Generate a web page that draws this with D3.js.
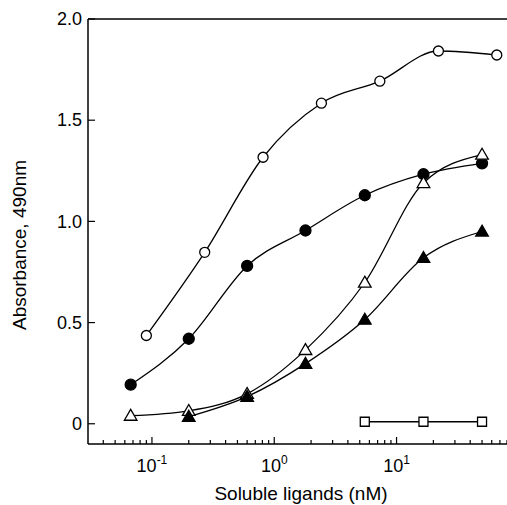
<!DOCTYPE html>
<html>
<head>
<meta charset="utf-8">
<title>Absorbance vs soluble ligands</title>
<style>
body { margin: 0; background: #fff; }
text { font-family: "Liberation Sans", Arial, Helvetica, sans-serif; fill: #000; }
.curve { fill: none; stroke: #000; stroke-width: 1.3px; }
.axis-line { stroke: #000; stroke-width: 1.5px; fill: none; }
.tick { stroke: #000; stroke-width: 1.2px; }
</style>
</head>
<body>
<script src="https://cdn.jsdelivr.net/npm/d3@7"></script>
<script>
// concentrations (nM), two 3-fold dilution series
var concA = [0.09, 0.27, 0.81, 2.43, 7.3, 22, 66];
var concB = [0.067, 0.2, 0.6, 1.8, 5.5, 16.6, 50];

// absorbance readings
var openCircle     = [0.436, 0.847, 1.317, 1.584, 1.693, 1.842, 1.822];
var filledCircle   = [0.193, 0.42, 0.78, 0.955, 1.129, 1.233, 1.287];
var openTriangle   = [0.04, 0.064, 0.148, 0.365, 0.698, 1.19, 1.33];
var filledTriangle = [null, 0.035, 0.134, 0.297, 0.515, 0.82, 0.95];
var openSquare     = [null, null, null, null, 0.01, 0.01, 0.01];

var yTicks = [0, 0.5, 1.0, 1.5, 2.0];
var xMajor = [0.1, 1, 10];
var xMajorExp = ["-1", "0", "1"];

var width = 507, height = 505;
var plotLeft = 88, plotTop = 19, plotRight = 507, plotBottom = 444;

var x = d3.scaleLog().domain([0.03, 80]).range([plotLeft, plotRight]);
var y = d3.scaleLinear().domain([-0.1, 2.0]).range([plotBottom, plotTop]);

var svg = d3.select("body").append("svg")
  .attr("width", width)
  .attr("height", height);

function pairs(xs, ys) {
  return xs.map(function(c, i) { return [c, ys[i]]; })
    .filter(function(d) { return d[1] != null; });
}

var series = [
  {data: pairs(concA, openCircle), shape: "circle", fill: "#fff", smooth: true},
  {data: pairs(concB, filledCircle), shape: "circle", fill: "#000", smooth: true},
  {data: pairs(concB, openTriangle), shape: "triangle", fill: "#fff", smooth: true},
  {data: pairs(concB, filledTriangle), shape: "triangle", fill: "#000", smooth: true},
  {data: pairs(concB, openSquare), shape: "square", fill: "#fff", smooth: false}
];

// axes frame
svg.append("line").attr("class", "axis-line")
  .attr("x1", plotLeft).attr("x2", plotLeft).attr("y1", plotTop).attr("y2", plotBottom);
svg.append("line").attr("class", "axis-line")
  .attr("x1", plotLeft).attr("x2", plotRight).attr("y1", plotTop).attr("y2", plotTop);
svg.append("line").attr("class", "axis-line")
  .attr("x1", plotLeft).attr("x2", plotRight).attr("y1", plotBottom).attr("y2", plotBottom);

// y ticks, pointing inward
svg.selectAll(".ytick").data(yTicks).enter().append("line")
  .attr("class", "tick")
  .attr("x1", plotLeft).attr("x2", plotLeft + 7)
  .attr("y1", function(d) { return y(d); })
  .attr("y2", function(d) { return y(d); });

svg.selectAll(".ylabel").data(yTicks).enter().append("text")
  .attr("x", plotLeft - 6)
  .attr("y", function(d) { return y(d); })
  .attr("dy", "0.35em")
  .attr("text-anchor", "end")
  .style("font-size", "18px")
  .text(function(d) { return d === 0 ? "0" : d3.format(".1f")(d); });

// x minor + major ticks
var xMinor = [];
[0.01, 0.1, 1, 10].forEach(function(dec) {
  for (var k = 2; k <= 9; k++) {
    var v = dec * k;
    if (v > 0.035 && v <= 80) xMinor.push(v);
  }
});

svg.selectAll(".xminor").data(xMinor).enter().append("line")
  .attr("class", "tick")
  .attr("x1", function(d) { return x(d); })
  .attr("x2", function(d) { return x(d); })
  .attr("y1", plotBottom).attr("y2", plotBottom - 4);

svg.selectAll(".xmajor").data(xMajor).enter().append("line")
  .attr("class", "tick")
  .attr("x1", function(d) { return x(d); })
  .attr("x2", function(d) { return x(d); })
  .attr("y1", plotBottom).attr("y2", plotBottom - 7);

var xl = svg.selectAll(".xlabel").data(xMajor).enter().append("text")
  .attr("x", function(d) { return x(d); })
  .attr("y", 472)
  .attr("text-anchor", "middle")
  .style("font-size", "18px");
xl.append("tspan").text("10");
xl.append("tspan")
  .attr("dy", -8)
  .style("font-size", "12px")
  .text(function(d, i) { return xMajorExp[i]; });

// axis titles
svg.append("text")
  .attr("x", 301)
  .attr("y", 500)
  .attr("text-anchor", "middle")
  .style("font-size", "19px")
  .text("Soluble ligands (nM)");

svg.append("text")
  .attr("transform", "translate(26,245) rotate(-90)")
  .attr("text-anchor", "middle")
  .style("font-size", "19px")
  .text("Absorbance, 490nm");

// curves
series.forEach(function(s) {
  var line = d3.line()
    .x(function(d) { return x(d[0]); })
    .y(function(d) { return y(d[1]); })
    .curve(s.smooth ? d3.curveMonotoneX : d3.curveLinear);
  svg.append("path").attr("class", "curve").attr("d", line(s.data));
});

// markers
function markerPath(shape) {
  if (shape === "triangle") return "M0,-6.3L6.3,4.6L-6.3,4.6Z";
  if (shape === "square") return "M-4.5,-4.5H4.5V4.5H-4.5Z";
  return null;
}

series.forEach(function(s) {
  var g = svg.append("g");
  var m = g.selectAll(".m").data(s.data).enter();
  if (s.shape === "circle") {
    m.append("circle")
      .attr("cx", function(d) { return x(d[0]); })
      .attr("cy", function(d) { return y(d[1]); })
      .attr("r", s.fill === "#000" ? 5.5 : 5)
      .attr("fill", s.fill)
      .attr("stroke", "#000")
      .attr("stroke-width", 1.3);
  } else {
    m.append("path")
      .attr("d", markerPath(s.shape))
      .attr("transform", function(d) { return "translate(" + x(d[0]) + "," + y(d[1]) + ")"; })
      .attr("fill", s.fill)
      .attr("stroke", "#000")
      .attr("stroke-width", 1.3);
  }
});
</script>
</body>
</html>
